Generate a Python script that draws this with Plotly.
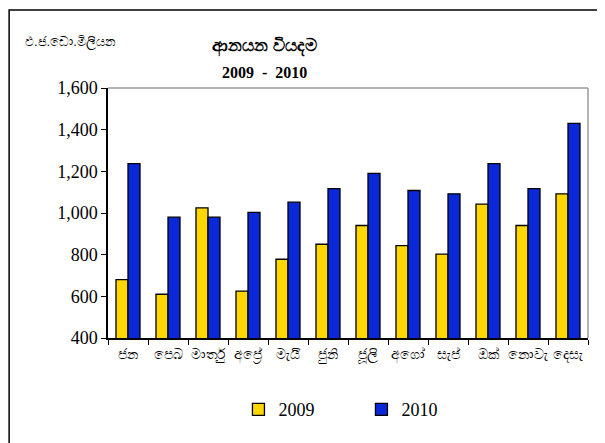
import plotly.graph_objects as go

# monthly import expenditure, US$ million
months = ["ජන", "පෙබ", "මාර්තු", "අප්‍රේ", "මැයි", "ජුනි",
          "ජූලි", "අගෝ", "සැප්", "ඔක්", "නොවැ", "දෙසැ"]
imports_2009 = [680, 610, 1025, 625, 778, 850, 940, 843, 803, 1043, 940, 1092]
imports_2010 = [1237, 980, 980, 1003, 1052, 1117, 1190, 1108, 1092, 1237, 1117, 1430]
y_ticks = [400, 600, 800, 1000, 1200, 1400, 1600]

serif = "Liberation Serif"

fig = go.Figure()
fig.add_trace(go.Bar(x=months, y=imports_2009, name="2009",
                     marker=dict(color="#FFD700", line=dict(color="black", width=1.3))))
fig.add_trace(go.Bar(x=months, y=imports_2010, name="2010",
                     marker=dict(color="#0A28D8", line=dict(color="black", width=1.3))))

# page body has an 8px margin, so margins are shifted by 8px
fig.update_layout(
    width=605, height=443,
    margin=dict(l=100, r=25, t=80, b=113),
    paper_bgcolor="white", plot_bgcolor="white",
    barmode="group", bargap=0.4, bargroupgap=0,
    showlegend=True,
    legend=dict(orientation="h", x=0.528, xanchor="center", y=-0.213, yanchor="top",
                font=dict(family=serif, size=18, color="black"),
                itemwidth=30, traceorder="normal", entrywidth=78),
    font=dict(family=serif, color="black"),
)
fig.update_xaxes(
    showline=True, linecolor="black", linewidth=1.5,
    ticks="outside", ticklen=5, tickcolor="black", tickson="boundaries",
    tickangle=0, automargin=False,
    tickfont=dict(size=14, family="sans-serif"),
    ticklabelstandoff=2, showgrid=False,
)
fig.update_yaxes(
    range=[400, 1600], tickvals=y_ticks, tickformat=",",
    showline=True, linecolor="black", linewidth=1.5, automargin=False,
    ticks="outside", ticklen=5, tickcolor="black",
    tickfont=dict(size=18, family=serif), showgrid=False,
)

# plot area gray top/right frame
fig.add_shape(type="line", xref="paper", yref="paper", x0=0, x1=1, y0=1, y1=1,
              line=dict(color="#9a9a9a", width=1.5))
fig.add_shape(type="line", xref="paper", yref="paper", x0=1, x1=1, y0=0, y1=1,
              line=dict(color="#9a9a9a", width=1.5))
# outer chart border (top and left visible)
fig.add_shape(type="rect", xref="paper", yref="paper", x0=-0.206, x1=1.2, y0=-0.6, y1=1.312,
              line=dict(color="black", width=1.5), layer="below")

fig.add_annotation(text="ඵ.ජ.ඩො.මිලියන", xref="paper", yref="paper",
                   x=-0.177, y=1.184, xanchor="left", yanchor="middle", showarrow=False,
                   font=dict(size=13, family="sans-serif", color="black"))
fig.add_annotation(text="<b>ආනයන වියදම</b>", xref="paper", yref="paper",
                   x=0.325, y=1.165, xanchor="center", yanchor="middle", showarrow=False,
                   font=dict(size=17, family="sans-serif", color="black"))
fig.add_annotation(text="<b>2009  -  2010</b>", xref="paper", yref="paper",
                   x=0.325, y=1.06, xanchor="center", yanchor="middle", showarrow=False,
                   font=dict(size=16, family=serif, color="black"))

fig.write_html("out.html")
